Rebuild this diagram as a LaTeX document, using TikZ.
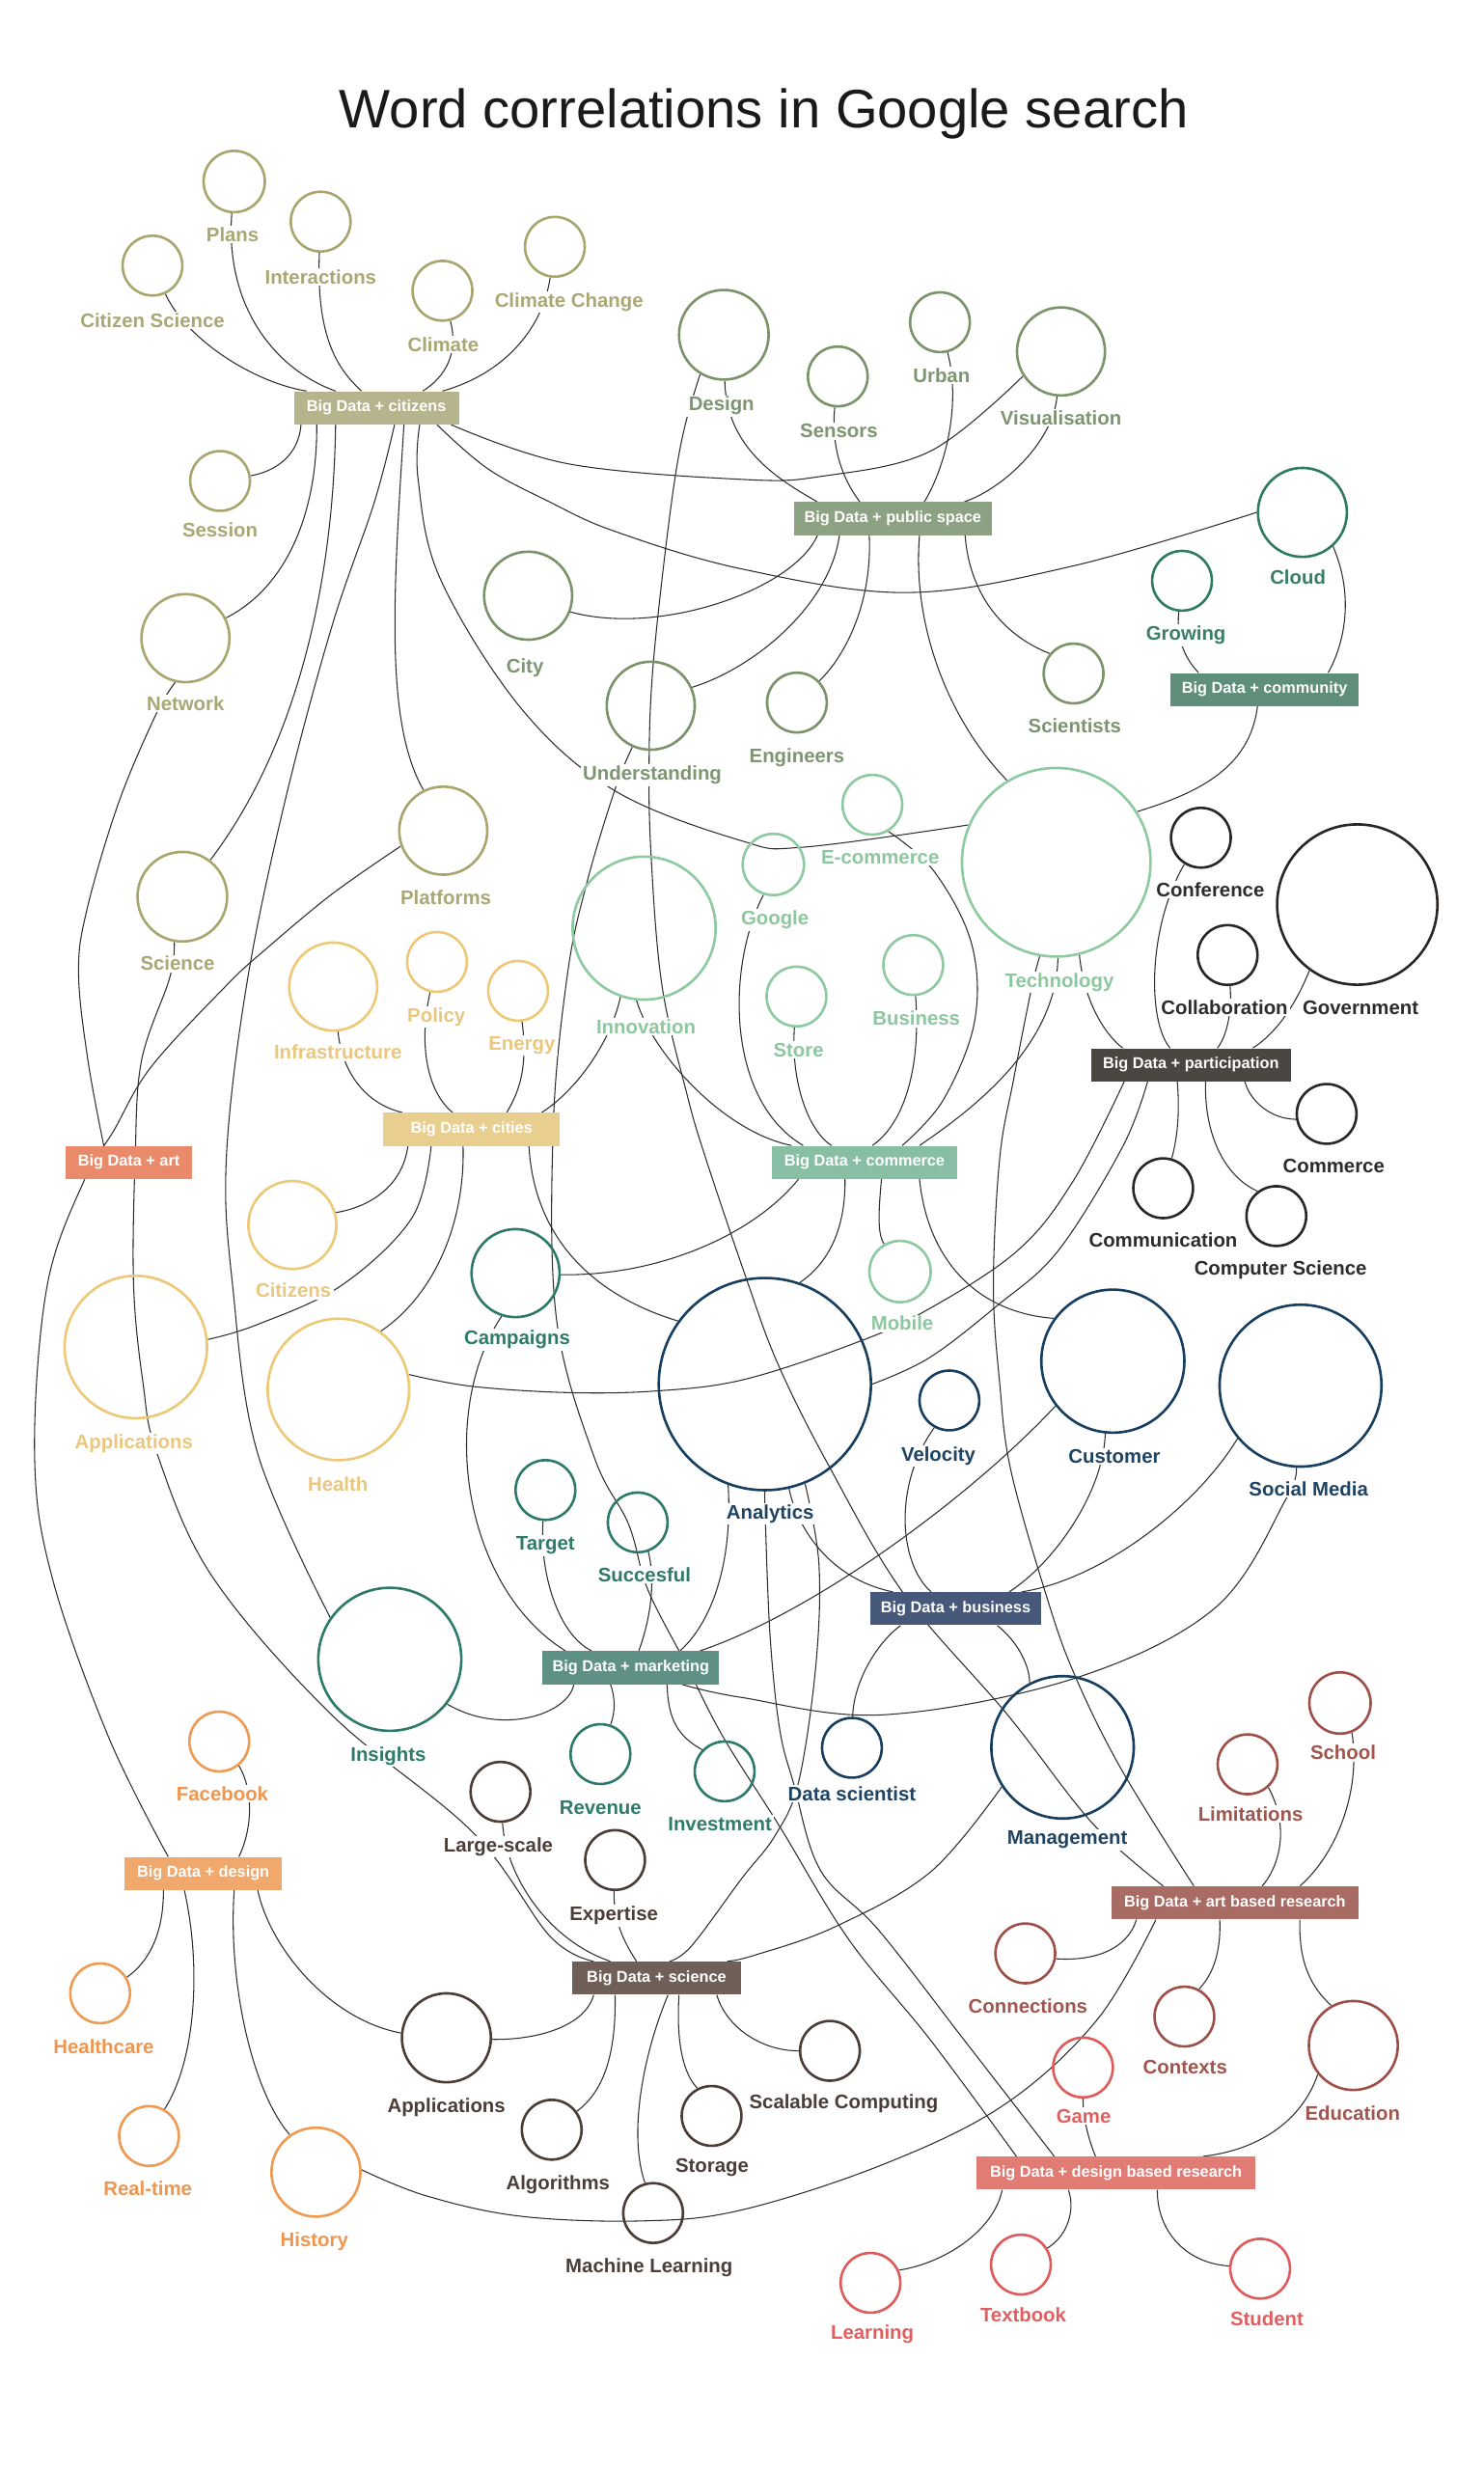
\documentclass[tikz,border=0pt]{standalone}
\usepackage{fontspec}
\setmainfont{Liberation Sans}
\pgfdeclarelayer{bgl}
\pgfdeclarelayer{edgel}
\pgfsetlayers{bgl,edgel,main}
\definecolor{linec}{HTML}{2E2E2E}
\definecolor{titlec}{HTML}{1A1A1A}
\definecolor{cz}{HTML}{A7A66E}\definecolor{czt}{HTML}{A9A874}\definecolor{czb}{HTML}{B6B48C}
\definecolor{ps}{HTML}{7A9369}\definecolor{pst}{HTML}{7E9571}\definecolor{psb}{HTML}{8CA282}
\definecolor{cm}{HTML}{2F7B62}\definecolor{cmt}{HTML}{3A7E66}\definecolor{cmb}{HTML}{5F8E7B}
\definecolor{co}{HTML}{8DCAA0}\definecolor{cot}{HTML}{8CC79F}\definecolor{cob}{HTML}{88BFA4}
\definecolor{pa}{HTML}{2A2623}\definecolor{pat}{HTML}{2F2B28}\definecolor{pab}{HTML}{4A4743}
\definecolor{bu}{HTML}{173E5E}\definecolor{but}{HTML}{1E4363}\definecolor{bub}{HTML}{46597A}
\definecolor{mk}{HTML}{2E7A69}\definecolor{mkt}{HTML}{2F7B6B}\definecolor{mkb}{HTML}{5F9086}
\definecolor{ct}{HTML}{ECC877}\definecolor{ctt}{HTML}{E9C77F}\definecolor{ctb}{HTML}{E8CF90}
\definecolor{arb}{HTML}{E98B6B}
\definecolor{dg}{HTML}{EF9A52}\definecolor{dgt}{HTML}{EE9650}\definecolor{dgb}{HTML}{F0A86C}
\definecolor{sc}{HTML}{4A3C37}\definecolor{sct}{HTML}{4B3E38}\definecolor{scb}{HTML}{6F5F58}
\definecolor{ab}{HTML}{9D4F48}\definecolor{abt}{HTML}{A0554E}\definecolor{abb}{HTML}{A96C65}
\definecolor{db}{HTML}{DF5A5A}\definecolor{dbt}{HTML}{E05F5F}\definecolor{dbb}{HTML}{E07C74}
\newcommand\labfont{\fontsize{12.5}{14}\selectfont\bfseries}
\newcommand\hubfont{\fontsize{10}{12}\selectfont\bfseries}
\newcommand\titlefont{\fontsize{34.5}{40}\selectfont}
\tikzset{
  term/.style={circle, line width=1.6pt, inner sep=0pt, minimum size=#1, draw},
  lab/.style={fill=white, inner xsep=1.5pt, inner ysep=1pt, anchor=base, font=\labfont},
  hub/.style={rectangle, inner xsep=2pt, inner ysep=0pt, minimum height=21pt, text=white, font=\hubfont, minimum width=#1},
  conn/.style={draw=linec, line width=0.65pt},
}
\begin{document}
\begin{tikzpicture}[x=1pt,y=-1pt]
\useasboundingbox (0,0) rectangle (944,1571.5);
\begin{pgfonlayer}{bgl}
\fill[white] (0,0) rectangle (944,1571.5);
\end{pgfonlayer}
\node[anchor=base, font=\titlefont, text=titlec] (title) at (486,81.5) {Word correlations in Google search};
% ---------- circles ----------
% citizens
\node[term=39pt,draw=cz] (plans) at (149,115.5) {};
\node[term=38pt,draw=cz] (inter) at (204,141) {};
\node[term=38pt,draw=cz] (citsci) at (97,169) {};
\node[term=38pt,draw=cz] (climate) at (281.5,185) {};
\node[term=38pt,draw=cz] (climch) at (353,157) {};
\node[term=38pt,draw=cz] (session) at (140,306) {};
\node[term=56pt,draw=cz] (network) at (118,406) {};
\node[term=57pt,draw=cz] (science) at (116,570.5) {};
\node[term=56pt,draw=cz] (platforms) at (282,528.5) {};
% public space
\node[term=57pt,draw=ps] (design) at (460.5,213) {};
\node[term=38pt,draw=ps] (sensors) at (533,239.5) {};
\node[term=38pt,draw=ps] (urban) at (598,205) {};
\node[term=56pt,draw=ps] (visual) at (675,223.6) {};
\node[term=56pt,draw=ps] (city) at (336,379) {};
\node[term=56pt,draw=ps] (underst) at (414,449) {};
\node[term=38pt,draw=ps] (engineers) at (507,447) {};
\node[term=38pt,draw=ps] (scientists) at (683,428.5) {};
% community
\node[term=56.6pt,draw=cm] (cloud) at (828.6,326) {};
\node[term=38pt,draw=cm] (growing) at (752,369.5) {};
% commerce
\node[term=120pt,draw=co] (tech) at (672,548.6) {};
\node[term=38pt,draw=co] (ecom) at (555,512) {};
\node[term=39pt,draw=co] (google) at (492,550) {};
\node[term=91pt,draw=co] (innov) at (409.8,590.5) {};
\node[term=38pt,draw=co] (store) at (506.7,634) {};
\node[term=38pt,draw=co] (business) at (581,614) {};
\node[term=39pt,draw=co] (mobile) at (572.6,809) {};
% participation
\node[term=38pt,draw=pa] (conf) at (764,533) {};
\node[term=102pt,draw=pa] (gov) at (863.5,575.5) {};
\node[term=38pt,draw=pa] (collab) at (781,607.6) {};
\node[term=38pt,draw=pa] (commerce) at (844,708.7) {};
\node[term=38pt,draw=pa] (communic) at (740,756) {};
\node[term=38pt,draw=pa] (compsci) at (812,773.7) {};
% business
\node[term=135pt,draw=bu] (analytics) at (486.6,880.6) {};
\node[term=38pt,draw=bu] (velocity) at (604,891) {};
\node[term=91pt,draw=bu] (customer) at (708,866) {};
\node[term=103pt,draw=bu] (social) at (827.4,881.6) {};
\node[term=38pt,draw=bu] (datasci) at (542,1112) {};
\node[term=90.6pt,draw=bu] (manage) at (676,1111.7) {};
% marketing
\node[term=56pt,draw=mk] (campaigns) at (328,810) {};
\node[term=38pt,draw=mk] (target) at (347,948) {};
\node[term=38pt,draw=mk] (succ) at (405.7,968.6) {};
\node[term=91pt,draw=mk] (insights) at (248,1055.7) {};
\node[term=38pt,draw=mk] (revenue) at (382,1116) {};
\node[term=38pt,draw=mk] (invest) at (461,1127) {};
% cities
\node[term=56pt,draw=ct] (infra) at (212,627.7) {};
\node[term=38pt,draw=ct] (policy) at (278,612) {};
\node[term=38pt,draw=ct] (energy) at (329.6,630.4) {};
\node[term=56pt,draw=ct] (citizens) at (186,779.4) {};
\node[term=90.6pt,draw=ct] (appy) at (86.4,857) {};
\node[term=90pt,draw=ct] (health) at (215.3,884) {};
% design
\node[term=38pt,draw=dg] (facebook) at (139.5,1108) {};
\node[term=38pt,draw=dg] (healthc) at (63.7,1268.2) {};
\node[term=38pt,draw=dg] (realtime) at (94.8,1359) {};
\node[term=56.6pt,draw=dg] (history) at (201,1382) {};
% science
\node[term=38pt,draw=sc] (large) at (318.4,1140) {};
\node[term=38pt,draw=sc] (expert) at (391.3,1183.4) {};
\node[term=56.6pt,draw=sc] (appb) at (284,1296.5) {};
\node[term=38pt,draw=sc] (algo) at (351,1355) {};
\node[term=38pt,draw=sc] (ml) at (415.5,1408) {};
\node[term=38pt,draw=sc] (storage) at (452.7,1346.2) {};
\node[term=38pt,draw=sc] (scal) at (528,1304.8) {};
% art based research
\node[term=39pt,draw=ab] (school) at (852.5,1083.5) {};
\node[term=38pt,draw=ab] (limit) at (793.7,1122.5) {};
\node[term=38pt,draw=ab] (connect) at (652.3,1242.8) {};
\node[term=38pt,draw=ab] (contexts) at (753.5,1283) {};
\node[term=56.6pt,draw=ab] (educ) at (861,1301.4) {};
% design based research
\node[term=38pt,draw=db] (game) at (689,1315.4) {};
\node[term=38pt,draw=db] (learning) at (553.8,1452.4) {};
\node[term=38pt,draw=db] (textbook) at (649.5,1440.8) {};
\node[term=38pt,draw=db] (student) at (801.7,1443.4) {};
% ---------- hubs ----------
\node[hub=105pt,fill=czb] (cz) at (239.5,259.5) {Big Data + citizens};
\node[hub=126pt,fill=psb] (ps) at (568,330) {Big Data + public space};
\node[hub=120pt,fill=cmb] (cmh) at (804.5,438.7) {Big Data + community};
\node[hub=118pt,fill=cob] (coh) at (550,739.5) {Big Data + commerce};
\node[hub=127pt,fill=pab] (pah) at (757.7,677.5) {Big Data + participation};
\node[hub=108.6pt,fill=bub] (buh) at (608,1023.5) {Big Data + business};
\node[hub=112.3pt,fill=mkb] (mkh) at (401.4,1061) {Big Data + marketing};
\node[hub=112pt,fill=ctb] (cth) at (300,718.5) {Big Data + cities};
\node[hub=80pt,fill=arb] (arh) at (82,739.5) {Big Data + art};
\node[hub=100.4pt,fill=dgb] (dgh) at (129.3,1192) {Big Data + design};
\node[hub=107pt,fill=scb] (sch) at (417.7,1258.5) {Big Data + science};
\node[hub=157.4pt,fill=abb] (abh) at (785.7,1210.6) {Big Data + art based research};
\node[hub=177pt,fill=dbb] (dbh) at (710,1382.6) {Big Data + design based research};
% ---------- connectors ----------
\begin{pgfonlayer}{edgel}
% citizens
\draw[conn] (citsci) .. controls (118,215) and (160,243) .. ([xshift=-44.5pt]cz.north);
\draw[conn] (plans) .. controls (143,195) and (175,235) .. ([xshift=-26pt]cz.north);
\draw[conn] (inter) .. controls (201,215) and (215,235) .. ([xshift=-9.5pt]cz.north);
\draw[conn] (climate) .. controls (292,225) and (283,240) .. ([xshift=29.5pt]cz.north);
\draw[conn] (climch) .. controls (345,210) and (320,238) .. ([xshift=42pt]cz.north);
\draw[conn] ([xshift=-48pt]cz.south) .. controls (190,290) and (175,300) .. (session);
\draw[conn] ([xshift=-38pt]cz.south) .. controls (202,330) and (180,375) .. (network);
\draw[conn] ([xshift=-26pt]cz.south) .. controls (212,380) and (185,480) .. (science);
\draw[conn] plot[smooth,tension=0.6] coordinates {([xshift=11.5pt]cz.south) (238,320) (211,399) (181,511) (157,626) (144,737) (148,818) (164,925) (insights.145)};
\draw[conn] ([xshift=17.5pt]cz.south) .. controls (250,380) and (245,460) .. (platforms.116);
\draw[conn] plot[smooth,tension=0.6] coordinates {([xshift=27.5pt]cz.south) (266,305) (280,368) (331,450) (391,503) (472,535) (511,539) (tech.157)};
\draw[conn] plot[smooth,tension=0.6] coordinates {([xshift=38.5pt]cz.south) (310,298) (349,319) (391,338) (472,362) (577,377) (683,360) (cloud.180)};
\draw[conn] plot[smooth,tension=0.6] coordinates {([xshift=47.5pt]cz.south) (361,295) (472,305) (523,303) (592,287) (visual.213)};
% public space
\draw[conn] (design) .. controls (462,285) and (495,305) .. ([xshift=-48pt]ps.north);
\draw[conn] (sensors) .. controls (528,290) and (540,310) .. ([xshift=-21pt]ps.north);
\draw[conn] (urban) .. controls (612,260) and (600,300) .. ([xshift=20pt]ps.north);
\draw[conn] (visual) .. controls (670,280) and (640,310) .. ([xshift=45.5pt]ps.north);
\draw[conn] ([xshift=-48pt]ps.south) .. controls (505,375) and (420,405) .. (city.-21);
\draw[conn] ([xshift=-34pt]ps.south) .. controls (528,385) and (480,425) .. (underst.24);
\draw[conn] ([xshift=-15pt]ps.south) .. controls (555,380) and (540,415) .. (engineers.44);
\draw[conn] ([xshift=17pt]ps.south) .. controls (580,400) and (605,460) .. (tech.121);
\draw[conn] ([xshift=46pt]ps.south) .. controls (617,380) and (640,405) .. (scientists.140);
% community
\draw[conn] (growing) .. controls (748,408) and (755,420) .. ([xshift=-42pt]cmh.north);
\draw[conn] (cloud.-48) .. controls (862,380) and (855,410) .. ([xshift=40.5pt]cmh.north);
\draw[conn] ([xshift=-4.5pt]cmh.south) .. controls (795,490) and (760,505) .. (tech.32);
% commerce
\draw[conn] (innov.-96) .. controls (415,670) and (460,720) .. ([xshift=-46.4pt]coh.north);
\draw[conn] (google.-108) .. controls (462,615) and (462,700) .. ([xshift=-39pt]coh.north);
\draw[conn] (store) .. controls (503,690) and (515,720) .. ([xshift=-21pt]coh.north);
\draw[conn] (business) .. controls (586,680) and (575,715) .. ([xshift=5pt]coh.north);
\draw[conn] plot[smooth,tension=0.6] coordinates {(ecom.-59) (594,554) (618,600) (620,650) (600,700) ([xshift=24pt]coh.north)};
\draw[conn] (tech.-89) .. controls (672,665) and (620,705) .. ([xshift=35pt]coh.north);
\draw[conn] ([xshift=-42pt]coh.south) .. controls (480,785) and (420,812) .. (campaigns.-2);
\draw[conn] ([xshift=-12.4pt]coh.south) .. controls (538,785) and (525,805) .. (analytics.71);
\draw[conn] ([xshift=10.8pt]coh.south) .. controls (559,770) and (558,785) .. (mobile.120);
\draw[conn] ([xshift=35pt]coh.south) .. controls (590,800) and (620,835) .. (customer.144);
% participation
\draw[conn] (tech.-76) .. controls (690,640) and (705,660) .. ([xshift=-43.4pt]pah.north);
\draw[conn] (conf.-122) .. controls (730,590) and (730,650) .. ([xshift=-13.3pt]pah.north);
\draw[conn] (collab) .. controls (784,645) and (780,660) .. ([xshift=16.8pt]pah.north);
\draw[conn] (gov.-126) .. controls (822,645) and (808,660) .. ([xshift=39.3pt]pah.north);
\draw[conn] plot[smooth,tension=0.6] coordinates {([xshift=-42.5pt]pah.south) (683,751) (647,796) (587,835) (540,856) (472,878) (417,885) (361,886) (300,882) (health.12)};
\draw[conn] plot[smooth,tension=0.6] coordinates {([xshift=-27.6pt]pah.south) (714,730) (673,796) (634,831) (591,864) (analytics.0)};
\draw[conn] ([xshift=-8.7pt]pah.south) .. controls (751,712) and (748,728) .. (communic);
\draw[conn] ([xshift=9.3pt]pah.south) .. controls (766,720) and (778,748) .. (compsci.127);
\draw[conn] ([xshift=34.3pt]pah.south) .. controls (795,700) and (808,712) .. (commerce.190);
% business
\draw[conn] (analytics.-77) .. controls (508,975) and (530,1005) .. ([xshift=-40pt]buh.north);
\draw[conn] (velocity.-119) .. controls (568,945) and (572,995) .. ([xshift=-15.6pt]buh.north);
\draw[conn] (customer.-96) .. controls (702,950) and (670,995) .. ([xshift=34pt]buh.north);
\draw[conn] (social.-140) .. controls (760,960) and (700,1005) .. ([xshift=42pt]buh.north);
\draw[conn] ([xshift=-35pt]buh.south) .. controls (558,1045) and (543,1070) .. (datasci);
\draw[conn] ([xshift=26.5pt]buh.south) .. controls (648,1045) and (655,1060) .. (manage.117);
% marketing
\draw[conn] (campaigns.-108) .. controls (278,900) and (295,1010) .. ([xshift=-41.7pt]mkh.north);
\draw[conn] (target) .. controls (343,1000) and (355,1040) .. ([xshift=-25pt]mkh.north);
\draw[conn] (succ.-70) .. controls (418,1010) and (412,1035) .. ([xshift=5pt]mkh.north);
\draw[conn] (analytics.-110) .. controls (466,990) and (455,1030) .. ([xshift=31.3pt]mkh.north);
\draw[conn] (customer.-142) .. controls (620,950) and (520,1025) .. ([xshift=44pt]mkh.north);
\draw[conn] ([xshift=-36.4pt]mkh.south) .. controls (362,1090) and (320,1105) .. (insights.-38);
\draw[conn] ([xshift=-13pt]mkh.south) .. controls (392,1082) and (391,1090) .. (revenue);
\draw[conn] ([xshift=23pt]mkh.south) .. controls (425,1095) and (432,1105) .. (invest.136);
\draw[conn] plot[smooth,tension=0.6] coordinates {(social.-93) (818,954) (773,1023) (683,1068) (562,1091) (472,1080) ([xshift=32.6pt]mkh.south)};
% cities
\draw[conn] (infra) .. controls (218,685) and (235,703) .. ([xshift=-44pt]cth.north);
\draw[conn] (policy) .. controls (266,665) and (272,695) .. ([xshift=-12pt]cth.north);
\draw[conn] (energy) .. controls (336,680) and (330,695) .. ([xshift=22.4pt]cth.north);
\draw[conn] (innov.-109) .. controls (388,665) and (365,695) .. ([xshift=44.6pt]cth.north);
\draw[conn] ([xshift=-40.5pt]cth.south) .. controls (256,755) and (235,768) .. (citizens.16);
\draw[conn] plot[smooth,tension=0.6] coordinates {([xshift=-25.7pt]cth.south) (262,775) (217,818) (163,843) (appy.6)};
\draw[conn] ([xshift=-5.4pt]cth.south) .. controls (296,780) and (275,825) .. (health.54);
\draw[conn] ([xshift=36.5pt]cth.south) .. controls (340,790) and (380,825) .. (analytics.144);
% long left lines
\draw[conn] plot[smooth,tension=0.6] coordinates {(network.-103) (99,455) (75,512) (55,580) (50,620) (56,675) ([xshift=-16pt]arh.north)};
\draw[conn] plot[smooth,tension=0.6] coordinates {(platforms.200) (211,569) (169,604) (144,627) (96,679) (72,720) (54,750) (30,818) (22,925) (33,1003) (69,1105) ([xshift=-22.3pt]dgh.north)};
\draw[conn] plot[smooth,tension=0.6] coordinates {(science.-100) (108,622) (90,675) (86,737) (85,818) (91,880) (100,925) (135,1003) (211,1091) (301,1166) (350,1232) ([xshift=-40pt]sch.north)};
% design
\draw[conn] (facebook.-51) .. controls (162,1140) and (160,1165) .. ([xshift=22.7pt]dgh.north);
\draw[conn] ([xshift=-25.3pt]dgh.south) .. controls (104,1230) and (95,1248) .. (healthc.31);
\draw[conn] ([xshift=-12pt]dgh.south) .. controls (128,1250) and (125,1310) .. (realtime.60);
\draw[conn] ([xshift=19.7pt]dgh.south) .. controls (145,1260) and (160,1330) .. (history.125);
\draw[conn] ([xshift=34.7pt]dgh.south) .. controls (172,1240) and (210,1285) .. (appb.174);
% science
\draw[conn] (large) .. controls (322,1195) and (350,1235) .. ([xshift=-29.4pt]sch.north);
\draw[conn] (expert) .. controls (390,1225) and (400,1240) .. ([xshift=-12.8pt]sch.north);
\draw[conn] plot[smooth,tension=0.6] coordinates {(analytics.-68) (521,995) (519,1060) (508,1134) (493,1168) (472,1195) (440,1238) ([xshift=8.3pt]sch.north)};
\draw[conn] plot[smooth,tension=0.6] coordinates {(manage.-147) (592,1191) (531,1226) (480,1244) ([xshift=45pt]sch.north)};
\draw[conn] ([xshift=-40pt]sch.south) .. controls (372,1290) and (340,1298) .. (appb.-2);
\draw[conn] ([xshift=-26.4pt]sch.south) .. controls (392,1305) and (385,1330) .. (algo);
\draw[conn] ([xshift=7.3pt]sch.south) .. controls (408,1310) and (400,1360) .. (ml.105);
\draw[conn] ([xshift=14.3pt]sch.south) .. controls (430,1300) and (435,1320) .. (storage.117);
\draw[conn] ([xshift=38.3pt]sch.south) .. controls (462,1290) and (485,1305) .. (scal.180);
% art based research
\draw[conn] plot[smooth,tension=0.6] coordinates {(design.-121) (436,270) (429,307) (421,370) (415,430) (413,480) (414,540) (421,626) (437,696) (449,737) (475,814) (495,868) (527,932) (575,1014) (641,1091) (695,1160) ([xshift=-45.7pt]abh.north)};
\draw[conn] plot[smooth,tension=0.6] coordinates {(tech.-100) (656,630) (645,686) (636,737) (632,818) (636,880) (643,935) (665,1013) (683,1064) (713,1125) ([xshift=-26.2pt]abh.north)};
\draw[conn] (limit.-48) .. controls (822,1165) and (812,1190) .. ([xshift=17.3pt]abh.north);
\draw[conn] (school.-68) .. controls (866,1140) and (850,1180) .. ([xshift=41.3pt]abh.north);
\draw[conn] ([xshift=-62.7pt]abh.south) .. controls (718,1238) and (700,1248) .. (connect.-10);
\draw[conn] plot[smooth,tension=0.6] coordinates {([xshift=-50.3pt]abh.south) (698,1285) (639,1339) (562,1377) (472,1406) (409,1413) (331,1410) (271,1397) (history.3)};
\draw[conn] ([xshift=-9.7pt]abh.south) .. controls (777,1245) and (770,1258) .. (contexts.62);
\draw[conn] ([xshift=41.3pt]abh.south) .. controls (826,1250) and (835,1265) .. (educ.119);
% design based research
\draw[conn] plot[smooth,tension=0.6] coordinates {(underst.-114) (391,503) (373,563) (361,620) (352,716) (354,839) (378,927) (400,970) (412,1011) (436,1058) (460,1105) (496,1162) (540,1234) (592,1298) ([xshift=-63.4pt]dbh.north)};
\draw[conn] plot[smooth,tension=0.6] coordinates {(analytics.-90) (487,970) (490,1042) (496,1100) (505,1135) (522,1190) (559,1228) (615,1300) ([xshift=-39.3pt]dbh.north)};
\draw[conn] (game) .. controls (689,1350) and (694,1365) .. ([xshift=-13pt]dbh.north);
\draw[conn] (educ.-141) .. controls (828,1350) and (800,1368) .. ([xshift=55.5pt]dbh.north);
\draw[conn] ([xshift=-72.4pt]dbh.south) .. controls (632,1420) and (600,1440) .. (learning.24);
\draw[conn] ([xshift=-30.3pt]dbh.south) .. controls (684,1405) and (680,1422) .. (textbook.32);
\draw[conn] ([xshift=26.3pt]dbh.south) .. controls (736,1420) and (755,1440) .. (student.175);
\end{pgfonlayer}
% ---------- labels ----------
\node[lab,text=czt] (l-plans) at (148,153.5) {Plans};
\node[lab,text=czt] (l-inter) at (204,180.5) {Interactions};
\node[lab,text=czt] (l-citsci) at (97,208.5) {Citizen Science};
\node[lab,text=czt] (l-climate) at (282,223.5) {Climate};
\node[lab,text=czt] (l-climch) at (362,195.5) {Climate Change};
\node[lab,text=czt] (l-session) at (140,341.5) {Session};
\node[lab,text=czt] (l-network) at (118,452) {Network};
\node[lab,text=czt] (l-science) at (113,617.5) {Science};
\node[lab,text=czt] (l-platforms) at (283.6,575.5) {Platforms};
\node[lab,text=pst] (l-design) at (459,261.5) {Design};
\node[lab,text=pst] (l-sensors) at (533.7,278.5) {Sensors};
\node[lab,text=pst] (l-urban) at (599,243.5) {Urban};
\node[lab,text=pst] (l-visual) at (675,270.5) {Visualisation};
\node[lab,text=pst] (l-city) at (334,428) {City};
\node[lab,text=pst] (l-underst) at (415,496.5) {Understanding};
\node[lab,text=pst] (l-engineers) at (507,485.5) {Engineers};
\node[lab,text=pst] (l-scientists) at (683.7,466.3) {Scientists};
\node[lab,text=cmt] (l-cloud) at (825.7,371.5) {Cloud};
\node[lab,text=cmt] (l-growing) at (754.5,407.5) {Growing};
\node[lab,text=cot] (l-tech) at (674,628.2) {Technology};
\node[lab,text=cot] (l-ecom) at (560,549.5) {E-commerce};
\node[lab,text=cot] (l-google) at (493,588.5) {Google};
\node[lab,text=cot] (l-innov) at (411,657.5) {Innovation};
\node[lab,text=cot] (l-store) at (508,672.2) {Store};
\node[lab,text=cot] (l-business) at (583,652.5) {Business};
\node[lab,text=cot] (l-mobile) at (574,846.5) {Mobile};
\node[lab,text=pat] (l-conf) at (770,570.5) {Conference};
\node[lab,text=pat] (l-gov) at (865.6,645.5) {Government};
\node[lab,text=pat] (l-collab) at (779,645.5) {Collaboration};
\node[lab,text=pat] (l-commerce) at (848.5,746.2) {Commerce};
\node[lab,text=pat] (l-communic) at (740,793.5) {Communication};
\node[lab,text=pat] (l-compsci) at (814.7,811.1) {Computer Science};
\node[lab,text=but] (l-analytics) at (490,966.5) {Analytics};
\node[lab,text=but] (l-velocity) at (597,929.5) {Velocity};
\node[lab,text=but] (l-customer) at (709,931) {Customer};
\node[lab,text=but] (l-social) at (832.5,951.5) {Social Media};
\node[lab,text=but] (l-datasci) at (542,1145.5) {Data scientist};
\node[lab,text=but] (l-manage) at (679,1173.5) {Management};
\node[lab,text=mkt] (l-campaigns) at (329,855.5) {Campaigns};
\node[lab,text=mkt] (l-target) at (347,986.2) {Target};
\node[lab,text=mkt] (l-succ) at (410,1006.5) {Succesful};
\node[lab,text=mkt] (l-insights) at (247,1120.5) {Insights};
\node[lab,text=mkt] (l-revenue) at (382,1154.5) {Revenue};
\node[lab,text=mkt] (l-invest) at (458,1164.5) {Investment};
\node[lab,text=ctt] (l-infra) at (215,674) {Infrastructure};
\node[lab,text=ctt] (l-policy) at (277.6,650.1) {Policy};
\node[lab,text=ctt] (l-energy) at (332,668.1) {Energy};
\node[lab,text=ctt] (l-citizens) at (186.7,825.5) {Citizens};
\node[lab,text=ctt] (l-appy) at (85.2,921.5) {Applications};
\node[lab,text=ctt] (l-health) at (215,948.5) {Health};
\node[lab,text=dgt] (l-facebook) at (141.5,1145.5) {Facebook};
\node[lab,text=dgt] (l-healthc) at (66,1306.4) {Healthcare};
\node[lab,text=dgt] (l-realtime) at (94,1396.7) {Real-time};
\node[lab,text=dgt] (l-history) at (200,1429.2) {History};
\node[lab,text=sct] (l-large) at (317,1178.3) {Large-scale};
\node[lab,text=sct] (l-expert) at (390.5,1222) {Expertise};
\node[lab,text=sct] (l-appb) at (284,1343.8) {Applications};
\node[lab,text=sct] (l-algo) at (355,1393.1) {Algorithms};
\node[lab,text=sct] (l-ml) at (413,1446) {Machine Learning};
\node[lab,text=sct] (l-storage) at (453,1382.2) {Storage};
\node[lab,text=sct] (l-scal) at (536.8,1341.8) {Scalable Computing};
\node[lab,text=abt] (l-school) at (854.5,1119.5) {School};
\node[lab,text=abt] (l-limit) at (795.6,1158.5) {Limitations};
\node[lab,text=abt] (l-connect) at (654,1280.8) {Connections};
\node[lab,text=abt] (l-contexts) at (754,1319.2) {Contexts};
\node[lab,text=abt] (l-educ) at (860.5,1348.7) {Education};
\node[lab,text=dbt] (l-game) at (689.4,1350.7) {Game};
\node[lab,text=dbt] (l-learning) at (555,1488.5) {Learning};
\node[lab,text=dbt] (l-textbook) at (651,1477.3) {Textbook};
\node[lab,text=dbt] (l-student) at (806,1479.8) {Student};
\end{tikzpicture}
\end{document}
